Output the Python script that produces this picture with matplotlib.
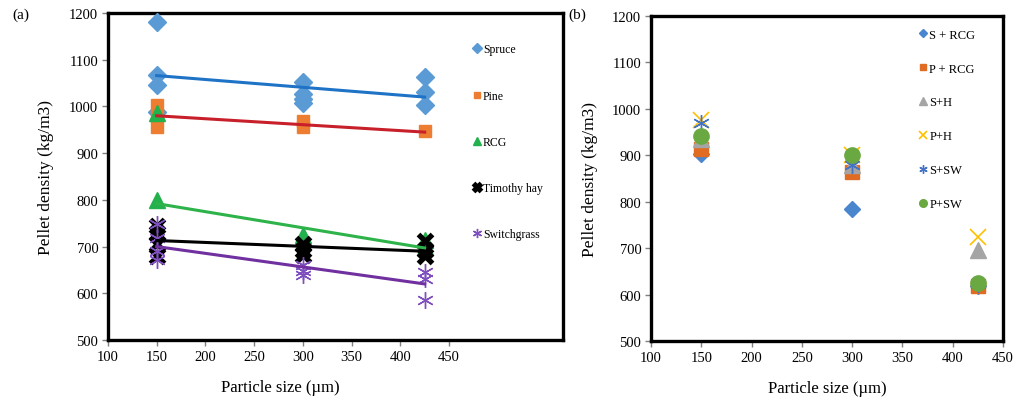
"""
Pellet density vs particle size: (a) single feedstocks with trend lines,
(b) feedstock blends.
"""

import matplotlib
matplotlib.use("Agg")
import matplotlib.pyplot as plt

plt.rcParams["font.family"] = ["Liberation Serif", "DejaVu Serif"]

# ---- panel (a) data ----
spruce_x = [150, 150, 150, 150, 300, 300, 300, 300, 425, 425, 425]
spruce_y = [1180, 1068, 1046, 988, 1053, 1027, 1016, 1007, 1063, 1030, 1002]
pine_x = [150, 150, 150, 300, 300, 425]
pine_y = [1002, 980, 955, 968, 957, 948]
rcg_x = [150, 150, 300, 425, 425]
rcg_y = [985, 800, 725, 715, 700]
hay_x = [150, 150, 150, 150, 300, 300, 300, 425, 425, 425]
hay_y = [745, 728, 705, 680, 705, 693, 682, 712, 692, 680]
sw_x = [150, 150, 150, 150, 300, 300, 300, 425, 425, 425]
sw_y = [748, 718, 690, 672, 660, 648, 640, 645, 630, 585]

# linear trend lines (value at 150 and 425 um)
trend_x = [150, 425]
spruce_trend = [1066, 1020]
pine_trend = [980, 945]
rcg_trend = [792, 697]
hay_trend = [713, 690]
sw_trend = [700, 620]

# ---- panel (b) data ----
blend_x = [150, 300, 425]
s_rcg = [902, 785, 618]
p_rcg = [913, 863, 618]
s_h = [935, 880, 695]
p_h = [975, 900, 725]
s_sw = [970, 880, 622]
p_sw = [942, 900, 625]

ASTERISK = (6, 2, 0)


def style_axes(ax, xlim, ylabel_x, xlabel_x):
    ax.set_xlim(*xlim)
    ax.set_ylim(500, 1200)
    ax.set_xticks(range(100, 451, 50))
    ax.set_yticks(range(500, 1201, 100))
    for s in ax.spines.values():
        s.set_linewidth(2.4)
        s.set_color("black")
    ax.tick_params(direction="out", length=4, width=1, color="#808080",
                   labelsize=10.5, pad=3)
    ax.set_ylabel("Pellet density (kg/m3)", fontsize=12.5)
    ax.set_xlabel("Particle size (\u00b5m)", fontsize=12)
    ax.yaxis.set_label_coords(ylabel_x, 0.5)
    ax.xaxis.set_label_coords(xlabel_x, -0.12)


fig = plt.figure(figsize=(10.22, 4.06), dpi=100)
fig.patch.set_facecolor("white")

# ---------------- (a) ----------------
ax1 = fig.add_axes([108 / 1022, 1 - 341 / 406, 455 / 1022, 327 / 406])
style_axes(ax1, (100, 567), -0.118, 0.378)

ms = 9
ax1.plot(spruce_x, spruce_y, "D", color="#5B9BD5", ms=ms, mec="#5B9BD5",
         label="Spruce", zorder=3)
ax1.plot(pine_x, pine_y, "s", color="#ED7D31", ms=ms, label="Pine", zorder=3)
ax1.plot(rcg_x, rcg_y, "^", color="#22B14C", ms=11, label="RCG", zorder=3)
ax1.plot(hay_x, hay_y, "x", color="black", ms=10, mew=3.8,
         label="Timothy hay", zorder=4)
ax1.plot(sw_x, sw_y, ls="none", marker=ASTERISK, color="#7F4FBF", ms=12,
         mew=1.0, label="Switchgrass", zorder=5)

ax1.plot(trend_x, spruce_trend, color="#1F73C6", lw=2.2, zorder=6)
ax1.plot(trend_x, pine_trend, color="#C8202A", lw=2.2, zorder=6)
ax1.plot(trend_x, rcg_trend, color="#2DB34A", lw=2.2, zorder=6)
ax1.plot(trend_x, hay_trend, color="black", lw=2.2, zorder=6)
ax1.plot(trend_x, sw_trend, color="#7030A0", lw=2.2, zorder=6)

ax1.legend(loc="upper left", bbox_to_anchor=(0.79, 0.925), frameon=False,
           fontsize=8.5, markerscale=0.55, handlelength=0.6,
           handletextpad=0.2, labelspacing=2.9, borderpad=0)

# ---------------- (b) ----------------
ax2 = fig.add_axes([651 / 1022, 1 - 342 / 406, 352 / 1022, 325 / 406])
style_axes(ax2, (100, 450), -0.15, 0.5)

ax2.plot(blend_x, s_rcg, "D", color="#4A86CE", ms=8, label="S + RCG", zorder=3)
ax2.plot(blend_x, p_rcg, "s", color="#E06C23", ms=10, label="P + RCG", zorder=3)
ax2.plot(blend_x, s_h, "^", color="#A5A5A5", ms=11, label="S+H", zorder=3)
ax2.plot(blend_x, p_h, "x", color="#FFC000", ms=12, mew=1.2, label="P+H",
         zorder=4)
ax2.plot(blend_x, s_sw, ls="none", marker=ASTERISK, color="#4472C4", ms=12,
         mew=1.0, label="S+SW", zorder=5)
ax2.plot(blend_x, p_sw, "o", color="#6AA842", ms=11, label="P+SW", zorder=6)

ax2.legend(loc="upper left", bbox_to_anchor=(0.745, 0.98), frameon=False,
           fontsize=9, markerscale=0.5, handlelength=0.6,
           handletextpad=0.2, labelspacing=1.75, borderpad=0)

fig.text(12 / 1022, 1 - 15 / 406, "(a)", fontsize=11, va="center")
fig.text(568 / 1022, 1 - 15 / 406, "(b)", fontsize=11, va="center")

fig.savefig("out.png", dpi=100, facecolor="white")
